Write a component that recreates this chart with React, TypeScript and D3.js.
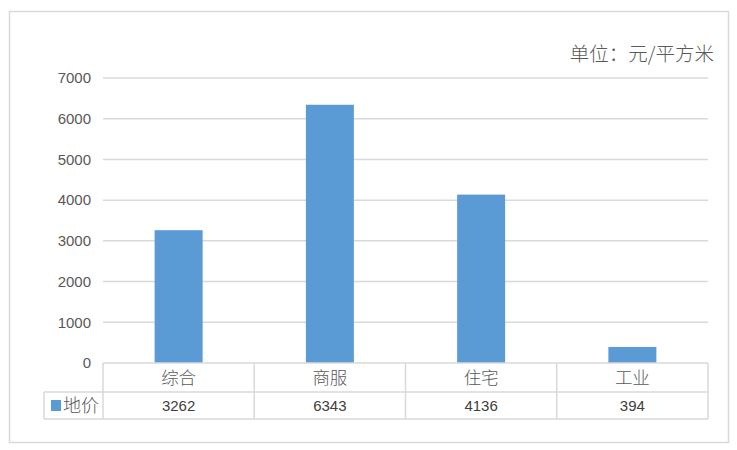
import React from "react";
import * as d3 from "d3";

const categories = ["综合", "商服", "住宅", "工业"];
const values = [3262, 6343, 4136, 394];
const seriesName = "地价";
const yTicks = [0, 1000, 2000, 3000, 4000, 5000, 6000, 7000];
const unitLabel = "单位：元/平方米";

export default function App() {
  const W = 737, H = 450;
  const left = 103, right = 708, top = 78, bottom = 363;
  const row1 = 392, row2 = 419, legendLeft = 44;
  const x = d3.scaleBand<string>().domain(categories).range([left, right]).paddingInner(0).paddingOuter(0);
  const y = d3.scaleLinear().domain([0, 7000]).range([bottom, top]);
  const barW = 48;
  const grid = "#D9D9D9";
  const txt = "#595959";
  const cjk = "'Noto Sans CJK SC', sans-serif";
  const num = "'Liberation Sans', sans-serif";
  return (
    <svg width={W} height={H} style={{ position: "absolute", left: 0, top: 0 }}>
      <rect x={0} y={0} width={W} height={H} fill="#fff" />
      <rect x={9.5} y={11.5} width={719} height={431} fill="#fff" stroke={grid} strokeWidth={1.5} />
      <text x={714} y={61} textAnchor="end" fontSize={19.5} fontWeight={300} fill={txt} fontFamily={cjk}>{unitLabel}</text>
      {yTicks.map((t) => (
        <g key={t}>
          {t > 0 && <line x1={left} x2={right} y1={y(t)} y2={y(t)} stroke={grid} strokeWidth={1.5} />}
          <text x={91} y={y(t)} dy="0.35em" textAnchor="end" fontSize={15} fill={txt} fontFamily={num}>{t}</text>
        </g>
      ))}
      {categories.map((c, i) => (
        <rect key={c} x={(x(c) as number) + x.bandwidth() / 2 - barW / 2} y={y(values[i])} width={barW} height={y(0) - y(values[i])} fill="#5B9BD5" />
      ))}
      <g stroke={grid} strokeWidth={1.5} fill="none">
        <line x1={left} x2={right} y1={bottom} y2={bottom} />
        <line x1={legendLeft} x2={right} y1={row1} y2={row1} />
        <line x1={legendLeft} x2={right} y1={row2} y2={row2} />
        <line x1={legendLeft} x2={legendLeft} y1={row1} y2={row2} />
        {categories.map((c) => (
          <line key={c} x1={x(c) as number} x2={x(c) as number} y1={bottom} y2={row2} />
        ))}
        <line x1={right} x2={right} y1={bottom} y2={row2} />
      </g>
      {categories.map((c, i) => (
        <g key={c}>
          <text x={(x(c) as number) + x.bandwidth() / 2} y={(bottom + row1) / 2} dy="0.38em" textAnchor="middle" fontSize={17.5} fontWeight={300} fill={txt} fontFamily={cjk}>{c}</text>
          <text x={(x(c) as number) + x.bandwidth() / 2} y={(row1 + row2) / 2} dy="0.36em" textAnchor="middle" fontSize={15} fill="#404040" fontFamily={num}>{values[i]}</text>
        </g>
      ))}
      <rect x={51} y={400} width={10} height={11} fill="#5B9BD5" />
      <text x={63} y={(row1 + row2) / 2} dy="0.38em" fontSize={18} fontWeight={300} fill={txt} fontFamily={cjk}>{seriesName}</text>
    </svg>
  );
}
